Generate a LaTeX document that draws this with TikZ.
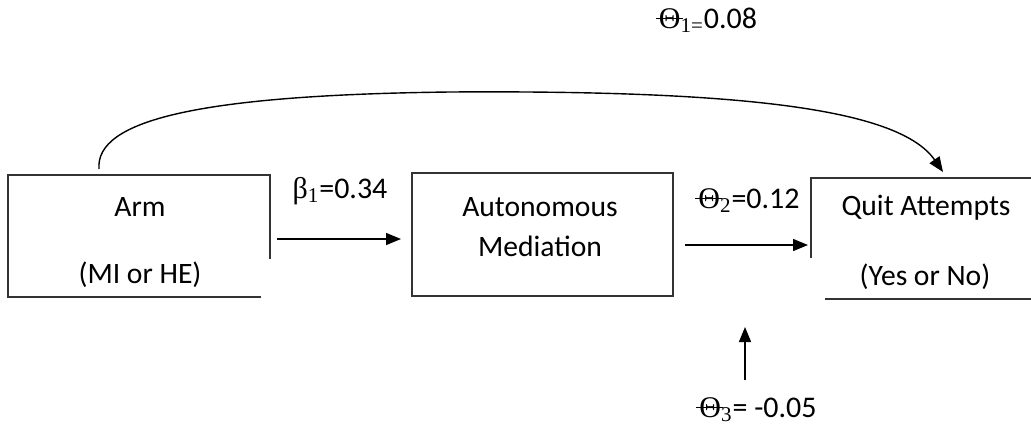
\documentclass[tikz,border=0pt]{standalone}
\usepackage{fontspec}
\setmainfont{Carlito}
\newfontfamily\grk{Liberation Serif}
\usetikzlibrary{positioning, arrows.meta}
\newcommand\thetabar{{\grk\makebox[0pt][l]{\kern-0.1em\rule[0.3em]{0.9em}{0.045em}}Θ}}

\begin{document}
\begin{tikzpicture}[x=0.5pt,y=-0.5pt,
  boxline/.style={line width=0.75pt,black!80},
  txt/.style={font=\fontsize{14.8}{17}\selectfont},
  lbl/.style={font=\fontsize{15}{17}\selectfont,anchor=base},
  path/.style={line width=0.7pt,-{Triangle[length=7.5pt,width=6pt]}}]
\useasboundingbox (0,0) rectangle (1031,429);

% boxes
\draw[boxline] (261,297)--(8,297)--(8,175)--(270,175)--(270,259);
\draw[boxline] (412,173) rectangle (673,296);
\draw[boxline] (811,258)--(811,178)--(1031,178);
\draw[boxline] (825,299)--(1031,299);

\node[txt] (arm) at (140,207) {Arm};
\node[txt] (armsub) at (140,275) {(MI or HE)};
\node[txt] (auto) at (540,207) {Autonomous};
\node[txt] (medi) at (540,246) {Mediation};
\node[txt] (quit) at (926,208) {Quit Attempts};
\node[txt] (quitsub) at (925,277) {(Yes or No)};

% arrows
\coordinate (a1) at (277,239);
\coordinate (a2) at (401,239);
\coordinate (b1) at (685,245);
\coordinate (b2) at (808,245);
\coordinate (c0) at (99,169);
\coordinate (c1) at (450,92);
\coordinate (c2) at (943,172);
\coordinate (d1) at (745,380);
\coordinate (d2) at (745,327);
\draw[path] (a1) -- (a2);
\draw[path] (b1) -- (b2);
\draw[path] (c0) .. controls (95,120) and (200,95) .. (c1)
  .. controls (750,90) and (900,110) .. (c2);
\draw[path] (d1) -- (d2);

\node[lbl] (beta1) at (340,198) {{\grk β\textsubscript{1}}=0.34};
\node[lbl] (theta2) at (749,208) {\thetabar{\grk\textsubscript{2}}=0.12};
\node[lbl] (theta1) at (708,28) {\thetabar{\grk\textsubscript{1=}}0.08};
\node[lbl] (theta3) at (758,417) {\thetabar{\grk\textsubscript{3}}= -0.05};
\end{tikzpicture}
\end{document}
